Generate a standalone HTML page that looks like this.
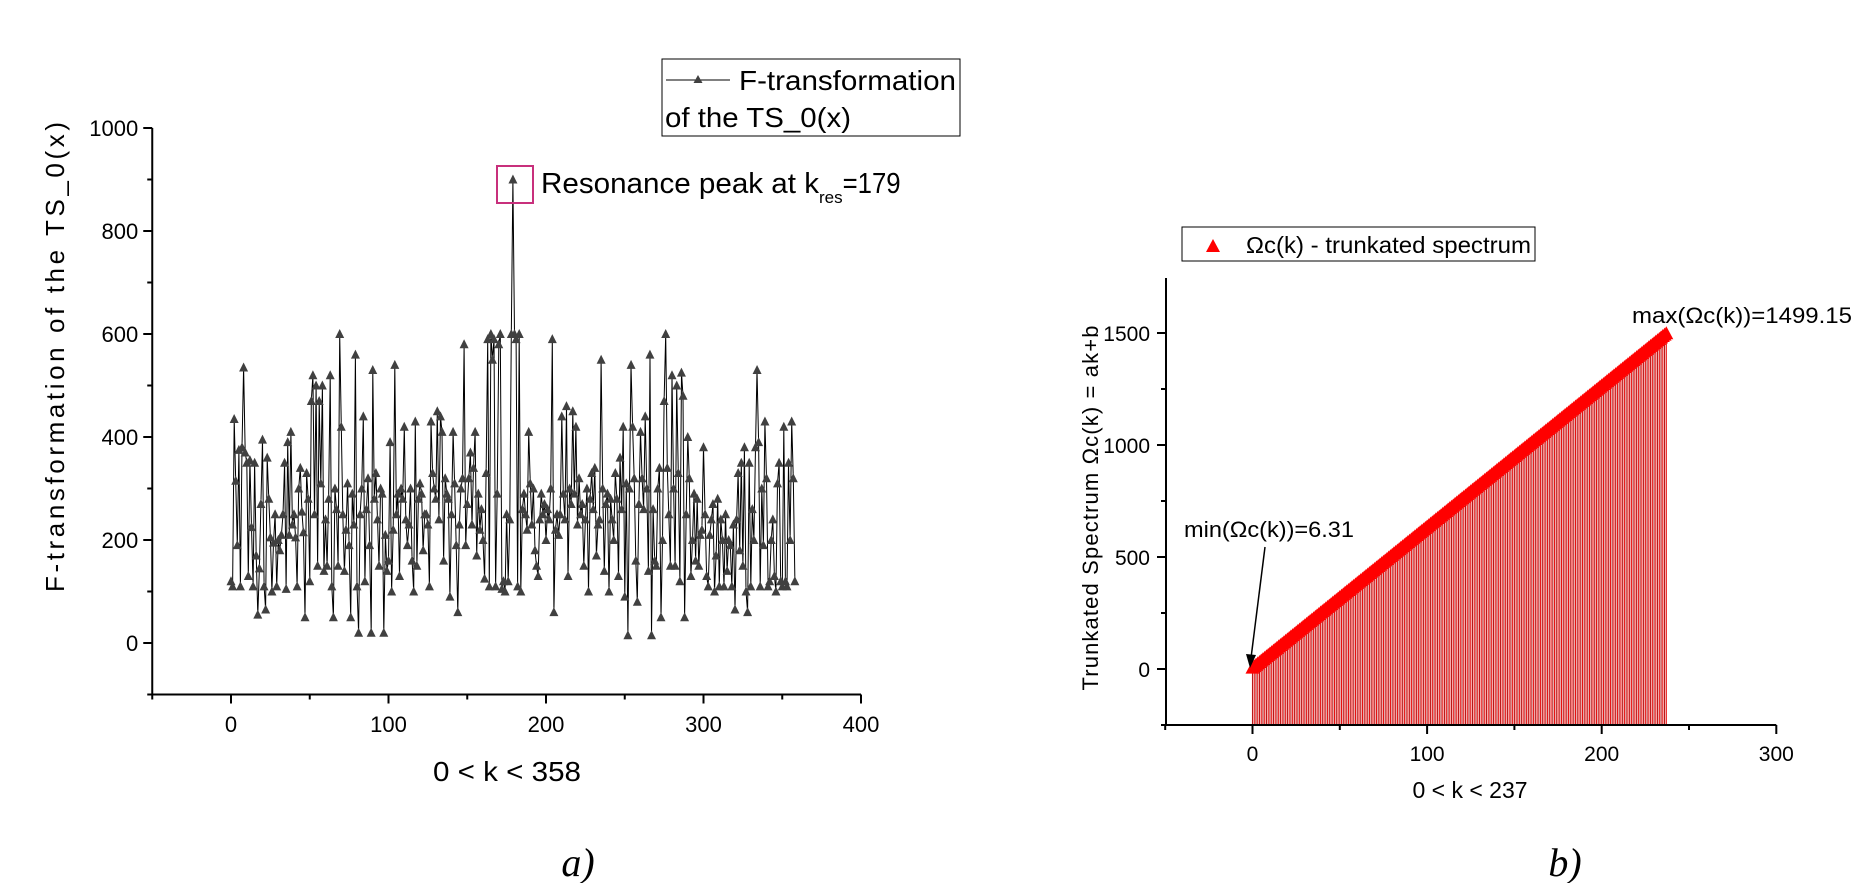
<!DOCTYPE html>
<html><head><meta charset="utf-8"><style>
html,body{margin:0;padding:0;background:#fff;}
svg{display:block;font-family:"Liberation Sans Narrow","Liberation Sans",sans-serif;}
</style></head><body>
<svg id="fig" width="1860" height="883" viewBox="0 0 1860 883" xmlns="http://www.w3.org/2000/svg">
<g id="left"></g>
<g id="right"></g>
<text x="578" y="876" font-family="Liberation Serif,serif" font-style="italic" font-size="40" text-anchor="middle">a)</text>
<text x="1565" y="876" font-family="Liberation Serif,serif" font-style="italic" font-size="40" text-anchor="middle">b)</text>
</svg>
<script>
const NS="http://www.w3.org/2000/svg";
// ---- Chart a data ----
const fValues=[
120,110,435,315,190,375,110,380,535,370,350,130,355,225,110,350,170,55,145,270,
395,110,65,360,280,205,100,195,250,110,200,180,210,250,350,105,390,210,410,230,
250,205,110,300,340,255,215,50,330,280,120,470,520,250,500,150,470,310,500,140,
240,150,280,520,110,50,300,260,150,600,420,250,140,220,310,190,50,290,230,560,
110,20,250,300,440,120,260,320,190,20,530,280,330,240,150,300,290,20,210,140,
160,390,100,220,540,250,290,130,300,280,420,240,190,230,300,160,100,430,150,280,
310,290,180,250,250,230,110,430,330,300,280,450,240,440,410,160,320,290,280,90,
250,410,310,190,60,230,300,320,580,190,270,320,370,230,340,410,170,290,220,260,
200,125,330,590,110,600,550,590,110,290,580,600,105,120,100,250,120,240,600,900,
600,590,110,600,100,260,290,250,220,410,310,230,300,180,150,130,240,290,250,270,
200,260,240,300,590,60,220,250,210,250,440,290,240,460,130,300,270,450,290,420,
230,320,250,270,150,240,300,100,280,330,260,340,170,230,240,550,300,140,270,290,
100,280,240,200,330,280,130,360,260,420,90,310,15,300,540,420,320,160,80,270,
410,320,260,440,300,140,560,15,260,160,150,300,340,50,200,470,600,340,250,150,
520,300,150,500,330,120,525,480,50,250,400,320,130,200,290,160,280,150,210,220,
380,250,130,110,210,240,270,100,170,280,110,240,200,110,250,140,200,190,110,230,
65,240,330,180,350,150,380,100,60,350,110,260,200,380,530,390,110,300,190,430,
320,110,120,200,240,130,100,310,350,120,110,420,120,110,350,200,430,320,120];
const aXTicks=[0,100,200,300,400];
const aYTicks=[0,200,400,600,800,1000];
// ---- Chart b data ----
const bMin=[6.31];
const bMax=[1499.15];
const bCount=[238];
const bXTicks=[0,100,200,300];
const bYTicks=[0,500,1000,1500];

function el(parent,tag,attrs){const e=document.createElementNS(NS,tag);for(const k in attrs)e.setAttribute(k,attrs[k]);parent.appendChild(e);return e;}

// Chart a
(function(){
const g=document.getElementById('left');
const X=v=>231+(v)*1.575, Y=v=>643-v*0.515;
const ax=el(g,'path',{d:`M${X(-50)} ${Y(1000)} V${Y(-100)} H${X(400)}`,fill:'none',stroke:'#000','stroke-width':2});

aYTicks.forEach(t=>{el(g,'line',{x1:X(-50)-9,x2:X(-50),y1:Y(t),y2:Y(t),stroke:'#000','stroke-width':2});
 const tx=el(g,'text',{x:X(-50)-14,y:Y(t)+8,'font-size':22,'text-anchor':'end'});tx.textContent=t;
 
 if(t<1000)el(g,'line',{x1:X(-50)-5,x2:X(-50),y1:Y(t+100),y2:Y(t+100),stroke:'#000','stroke-width':2});});
el(g,'line',{x1:X(-50)-5,x2:X(-50),y1:Y(-100),y2:Y(-100),stroke:'#000','stroke-width':2});
aXTicks.forEach(t=>{el(g,'line',{x1:X(t),x2:X(t),y1:Y(-100),y2:Y(-100)+9,stroke:'#000','stroke-width':2});
 const tx=el(g,'text',{x:X(t),y:732,'font-size':22,'text-anchor':'middle'});tx.textContent=t;
 
 el(g,'line',{x1:X(t-50),x2:X(t-50),y1:Y(-100),y2:Y(-100)+5,stroke:'#000','stroke-width':2});});
let d='';fValues.forEach((v,i)=>{d+=(i?'L':'M')+X(i).toFixed(1)+' '+Y(v).toFixed(1);});
const ln=el(g,'path',{d,fill:'none',stroke:'#000','stroke-width':1});

fValues.forEach((v,i)=>{const x=X(i),y=Y(v);
 const m=el(g,'polygon',{points:`${x-4.5},${y+4} ${x+4.5},${y+4} ${x},${y-5}`,fill:'#404040'});
 });
const yt=el(g,'text',{transform:'translate(64,357) rotate(-90)','font-size':26,'text-anchor':'middle',textLength:470,lengthAdjust:'spacing','font-family':'Liberation Sans,sans-serif'});
yt.textContent='F-transformation of the TS_0(x)';
const xt=el(g,'text',{x:507,y:781,'font-size':28,'text-anchor':'middle',textLength:148,lengthAdjust:'spacingAndGlyphs'});xt.textContent='0 < k < 358';

const lg=el(g,'g',{});
el(lg,'rect',{x:662,y:59,width:298,height:77,fill:'#fff',stroke:'#000','stroke-width':1});
el(lg,'line',{x1:666,x2:730,y1:80,y2:80,stroke:'#000','stroke-width':1});
el(lg,'polygon',{points:'693.5,83 702.5,83 698,75',fill:'#404040'});
const l1=el(lg,'text',{x:739,y:90,'font-size':28,textLength:217,lengthAdjust:'spacingAndGlyphs'});l1.textContent='F-transformation';
const l2=el(lg,'text',{x:665,y:127,'font-size':28,textLength:186,lengthAdjust:'spacingAndGlyphs'});l2.textContent='of the TS_0(x)';
const bx=el(g,'rect',{x:497,y:166,width:36,height:37,fill:'none',stroke:'#c8307c','stroke-width':2});

const an=el(g,'text',{x:541,y:193,'font-size':29});
an.innerHTML='<tspan textLength="278" lengthAdjust="spacingAndGlyphs">Resonance peak at k</tspan><tspan font-size="17" dy="10">res</tspan><tspan dy="-10" textLength="58" lengthAdjust="spacingAndGlyphs">=179</tspan>';
})();

// Chart b
(function(){
const g=document.getElementById('right');
const X=v=>1252.5+v*1.746, Y=v=>669-v*0.224;
const a=(bMax[0]-bMin[0])/(bCount[0]-1), b=bMin[0];
const bars=el(g,'g',{});
for(let k=0;k<bCount[0];k++){const v=a*k+b;
 el(bars,'line',{x1:X(k),x2:X(k),y1:Y(v),y2:Y(-250),stroke:k%2?'#e81010':'#b81818','stroke-width':1.1});}
const mk=el(g,'g',{});
for(let k=0;k<bCount[0];k++){const v=a*k+b,x=X(k),y=Y(v);
 el(mk,'polygon',{points:`${x-7},${y+6} ${x+7},${y+6} ${x},${y-7}`,fill:'#ff0000'});}
const ax=el(g,'path',{d:`M1166 278 V${Y(-250)} H${X(300)}`,fill:'none',stroke:'#000','stroke-width':2});

bYTicks.forEach(t=>{el(g,'line',{x1:1157,x2:1166,y1:Y(t),y2:Y(t),stroke:'#000','stroke-width':2});
 el(g,'line',{x1:1161,x2:1166,y1:Y(t-250),y2:Y(t-250),stroke:'#000','stroke-width':2});
 const tx=el(g,'text',{x:1150,y:Y(t)+8,'font-size':21,'text-anchor':'end'});tx.textContent=t;
 });
el(g,'line',{x1:1161,x2:1166,y1:Y(1250),y2:Y(1250),stroke:'#000','stroke-width':2});
bXTicks.forEach(t=>{el(g,'line',{x1:X(t),x2:X(t),y1:Y(-250),y2:Y(-250)+9,stroke:'#000','stroke-width':2});
 el(g,'line',{x1:X(t-50),x2:X(t-50),y1:Y(-250),y2:Y(-250)+5,stroke:'#000','stroke-width':2});
 const tx=el(g,'text',{x:X(t),y:761,'font-size':21,'text-anchor':'middle'});tx.textContent=t;
 });
const yt=el(g,'text',{transform:'translate(1098,508) rotate(-90)','font-size':22,'text-anchor':'middle',textLength:365,lengthAdjust:'spacing','font-family':'Liberation Sans,sans-serif'});
yt.textContent='Trunkated Spectrum \u03A9c(k) = ak+b';
const xt=el(g,'text',{x:1470,y:798,'font-size':23,'text-anchor':'middle'});xt.textContent='0 < k < 237';

const lg=el(g,'g',{});
el(lg,'rect',{x:1182,y:227,width:353,height:34,fill:'#fff',stroke:'#000','stroke-width':1});
el(lg,'polygon',{points:'1206,252 1220,252 1213,239',fill:'#ff0000'});
const lt=el(lg,'text',{x:1246,y:253,'font-size':23,textLength:285,lengthAdjust:'spacingAndGlyphs'});lt.textContent='\u03A9c(k) - trunkated spectrum';
const mx=el(g,'text',{x:1632,y:323,'font-size':22,textLength:220,lengthAdjust:'spacingAndGlyphs'});mx.textContent='max(\u03A9c(k))=1499.15';

const mn=el(g,'text',{x:1184,y:537,'font-size':22,textLength:170,lengthAdjust:'spacingAndGlyphs'});mn.textContent='min(\u03A9c(k))=6.31';

const ar=el(g,'line',{x1:1265,y1:547,x2:1251,y2:658,stroke:'#000','stroke-width':1.5});

el(g,'polygon',{points:'1250,668 1246,654 1256,655',fill:'#000'});
})();
</script>
</body></html>
